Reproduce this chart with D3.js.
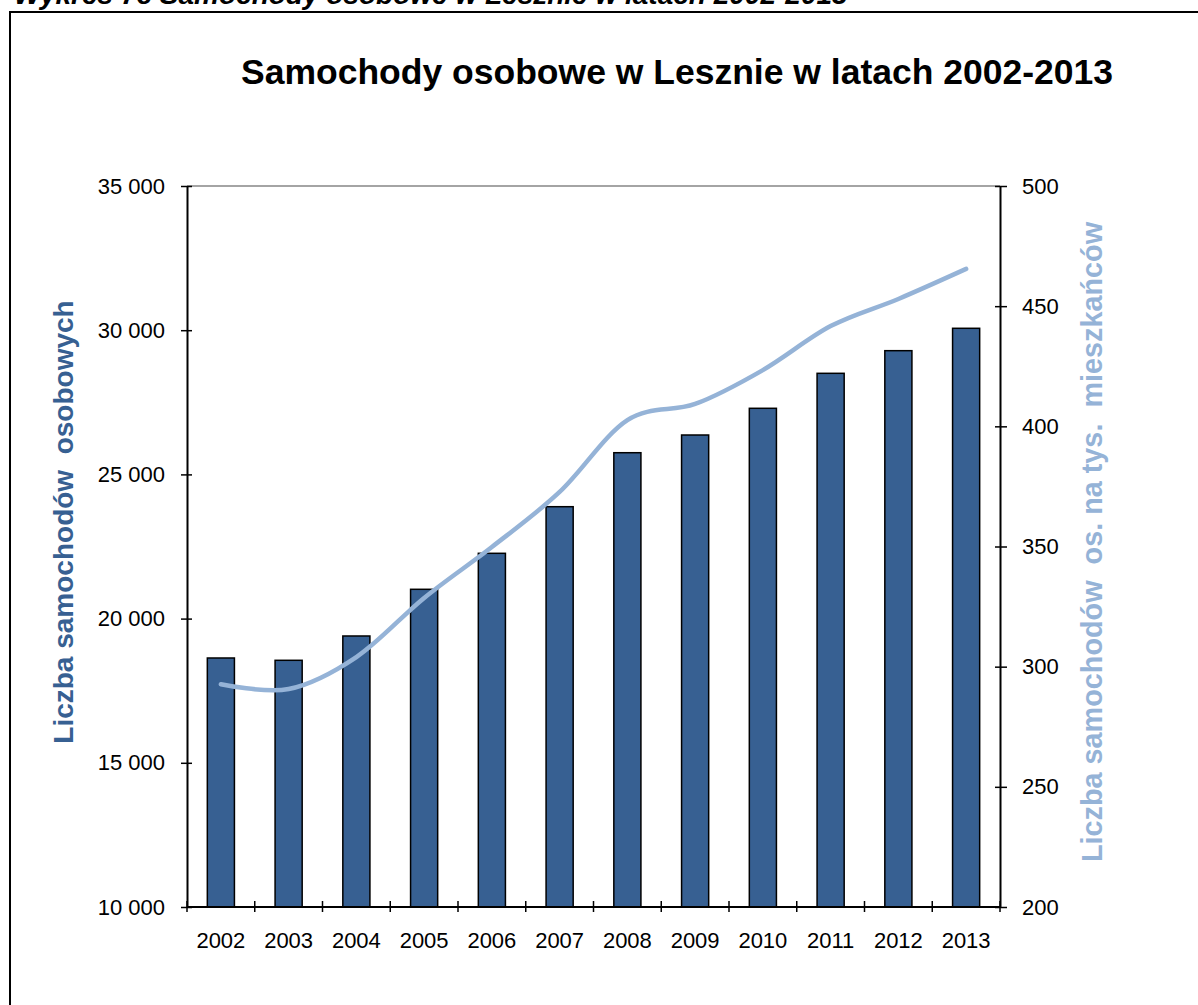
<!DOCTYPE html>
<html lang="pl">
<head>
<meta charset="utf-8">
<script src="https://cdn.jsdelivr.net/npm/d3@7"></script>
<style>
  html, body { margin: 0; padding: 0; background: #fff; }
  svg { display: block; font-family: "Liberation Sans", Arial, sans-serif; }
</style>
</head>
<body>
<svg id="chart" width="1198" height="1005"></svg>
<script>
// Lata, liczba samochodów osobowych i wskaźnik na 1000 mieszkańców
const years = ["2002","2003","2004","2005","2006","2007","2008","2009","2010","2011","2012","2013"];
const cars = [18634, 18554, 19397, 21016, 22264, 23880, 25752, 26366, 27292, 28505, 29290, 30066];
const carsPer1000 = [292.7, 290.7, 304, 328.6, 349.8, 372.7, 402.6, 409.3, 423.4, 441.7, 453, 465.5];
const leftTicks = [10000, 15000, 20000, 25000, 30000, 35000];
const rightTicks = [200, 250, 300, 350, 400, 450, 500];

const svg = d3.select("#chart");
const m = { left: 187, right: 1000, top: 186, bottom: 907 };

// Ramka wykresu i nagłówek
svg.append("text")
  .attr("x", 14).attr("y", 4)
  .attr("font-size", 28).attr("font-weight", "bold").attr("font-style", "italic")
  .text("Wykres 7c Samochody osobowe w Lesznie w latach 2002-2013");

svg.append("path")
  .attr("d", "M10,1010 V12 H1205")
  .attr("fill", "none").attr("stroke", "#000").attr("stroke-width", 2);

svg.append("text")
  .attr("x", 677).attr("y", 84)
  .attr("text-anchor", "middle")
  .attr("font-size", 35.5).attr("font-weight", "bold")
  .text("Samochody osobowe w Lesznie w latach 2002-2013");

// Skale
const x = d3.scaleBand().domain(years).range([m.left, m.right]).paddingInner(0).paddingOuter(0);
const yL = d3.scaleLinear().domain([10000, 35000]).range([m.bottom, m.top]);
const yR = d3.scaleLinear().domain([200, 500]).range([m.bottom, m.top]);

// Górna krawędź obszaru kreślenia
svg.append("line")
  .attr("x1", m.left).attr("x2", m.right)
  .attr("y1", m.top).attr("y2", m.top)
  .attr("stroke", "#868686").attr("stroke-width", 1.5);

// Słupki
const barW = x.bandwidth() * 0.4;
svg.append("g").selectAll("rect")
  .data(years)
  .join("rect")
  .attr("x", (d) => x(d) + (x.bandwidth() - barW) / 2)
  .attr("width", barW)
  .attr("y", (d, i) => yL(cars[i]))
  .attr("height", (d, i) => yL(10000) - yL(cars[i]))
  .attr("fill", "#376092")
  .attr("stroke", "#000")
  .attr("stroke-width", 1.5);

// Linia wskaźnika (wygładzona)
const line = d3.line()
  .x((d, i) => x(years[i]) + x.bandwidth() / 2)
  .y((d) => yR(d))
  .curve(d3.curveCatmullRom.alpha(0));
svg.append("path")
  .datum(carsPer1000)
  .attr("d", line)
  .attr("fill", "none")
  .attr("stroke", "#95B3D7")
  .attr("stroke-width", 4.5)
  .attr("stroke-linecap", "round");

// Oś lewa
const axL = svg.append("g").attr("transform", `translate(${m.left},0)`)
  .call(d3.axisLeft(yL).tickValues(leftTicks).tickSizeInner(6).tickSizeOuter(0).tickPadding(16)
    .tickFormat((v) => d3.format(",")(v).replace(/,/g, " ")));
axL.select(".domain").attr("stroke", "#000").attr("stroke-width", 2);
axL.selectAll(".tick line").attr("stroke", "#000").attr("stroke-width", 1.5).attr("x2", -6).attr("x1", 5);
axL.selectAll(".tick text").attr("font-size", 22).attr("fill", "#000")
  .attr("font-family", "Liberation Sans, Arial, sans-serif");

// Oś prawa
const axR = svg.append("g").attr("transform", `translate(${m.right},0)`)
  .call(d3.axisRight(yR).tickValues(rightTicks).tickSizeInner(6).tickSizeOuter(0).tickPadding(16));
axR.select(".domain").attr("stroke", "#000").attr("stroke-width", 2);
axR.selectAll(".tick line").attr("stroke", "#000").attr("stroke-width", 1.5).attr("x1", -5).attr("x2", 7);
axR.selectAll(".tick text").attr("font-size", 22).attr("fill", "#000")
  .attr("font-family", "Liberation Sans, Arial, sans-serif");

// Oś pozioma: podziałki na granicach kategorii
const axB = svg.append("g").attr("transform", `translate(0,${m.bottom})`);
axB.append("line")
  .attr("x1", m.left).attr("x2", m.right)
  .attr("stroke", "#000").attr("stroke-width", 2);
const bounds = years.map((d) => x(d)).concat([m.right]);
axB.selectAll("line.tk").data(bounds).join("line")
  .attr("class", "tk")
  .attr("x1", (d) => d).attr("x2", (d) => d)
  .attr("y1", -6).attr("y2", 5)
  .attr("stroke", "#000").attr("stroke-width", 1.5);
axB.selectAll("text").data(years).join("text")
  .attr("x", (d) => x(d) + x.bandwidth() / 2)
  .attr("y", 41)
  .attr("text-anchor", "middle")
  .attr("font-size", 22)
  .text((d) => d);

// Tytuły osi
svg.append("text")
  .attr("transform", "translate(73,522) rotate(-90)")
  .attr("text-anchor", "middle")
  .attr("font-size", 28).attr("font-weight", "bold")
  .attr("fill", "#376092")
  .attr("xml:space", "preserve")
  .text("Liczba samochodów  osobowych");

svg.append("text")
  .attr("transform", "translate(1102,542) rotate(-90)")
  .attr("text-anchor", "middle")
  .attr("font-size", 28.8).attr("font-weight", "bold")
  .attr("fill", "#95B3D7")
  .attr("xml:space", "preserve")
  .text("Liczba samochodów  os. na tys.  mieszkańców");
</script>
</body>
</html>
